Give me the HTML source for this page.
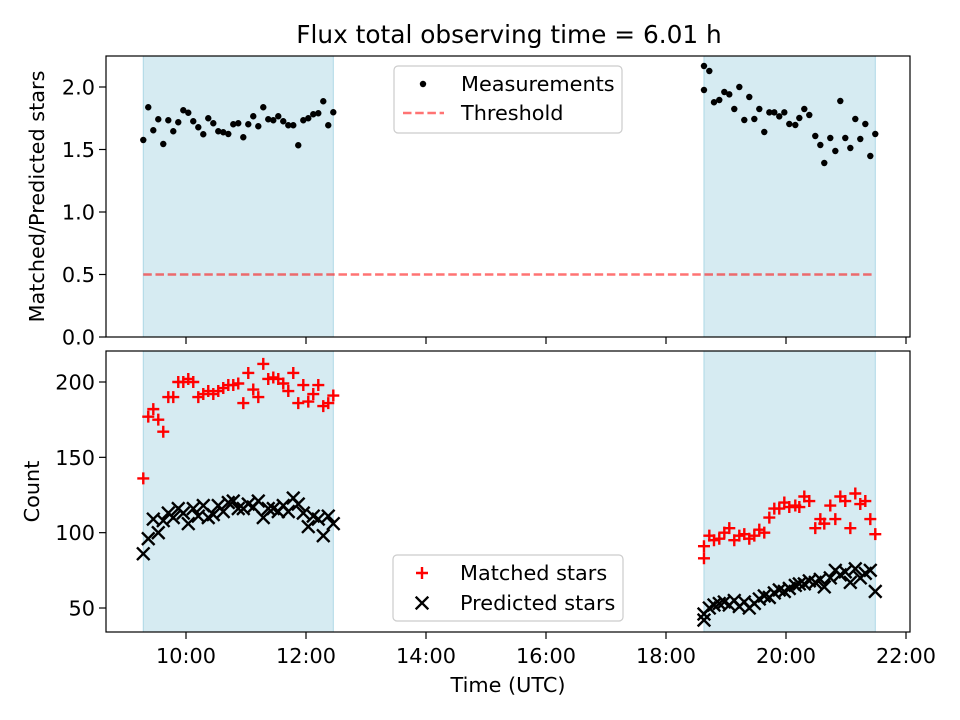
<!DOCTYPE html>
<html><head><meta charset="utf-8"><style>
html,body{margin:0;padding:0;background:#fff;}
svg{display:block;font-family:"DejaVu Sans","Liberation Sans",sans-serif;}
</style></head><body>
<svg id="fig" width="960" height="720" viewBox="0 0 960 720">
<rect width="960" height="720" fill="#fff"/>
<text x="509" y="43" font-size="24.8" text-anchor="middle">Flux total observing time = 6.01 h</text>
<g id="top"></g>
<g id="bot"></g>
</svg>
<script>
const spans = [[9.288, 12.455], [18.633, 21.488]];
const timesA = [9.288,9.371,9.455,9.538,9.621,9.705,9.788,9.871,9.955,10.038,10.121,10.205,10.288,10.371,10.455,10.538,10.621,10.705,10.788,10.871,10.955,11.038,11.121,11.205,11.288,11.371,11.455,11.538,11.621,11.705,11.788,11.871,11.955,12.038,12.121,12.205,12.288,12.371,12.455];
const timesB = [18.633,18.633,18.722,18.8,18.888,18.972,19.055,19.138,19.222,19.305,19.388,19.472,19.555,19.638,19.722,19.805,19.888,19.972,20.055,20.155,20.222,20.305,20.388,20.488,20.572,20.638,20.738,20.822,20.905,20.988,21.072,21.155,21.238,21.322,21.405,21.488];
const ratioA = [1.576,1.838,1.654,1.742,1.544,1.734,1.646,1.718,1.814,1.794,1.726,1.678,1.622,1.75,1.71,1.646,1.638,1.624,1.702,1.71,1.598,1.702,1.766,1.686,1.838,1.742,1.734,1.766,1.726,1.694,1.694,1.534,1.734,1.75,1.782,1.79,1.886,1.694,1.798];
const ratioB = [2.168,1.976,2.128,1.878,1.896,1.96,1.941,1.824,2.0,1.736,1.92,1.744,1.824,1.64,1.797,1.797,1.765,1.797,1.704,1.696,1.752,1.824,1.776,1.608,1.536,1.392,1.592,1.488,1.888,1.592,1.512,1.744,1.584,1.704,1.448,1.624];
const matchedA = [136,177,182,175,167,190,190,200,200,202,200,190,192,194,192,194,196,198,198,199,186,206,195,190,212,202,203,202,199,194,206,186,198,187,192,198,184,186,191];
const matchedB = [83,91,98,95,96,100,103,95,98,99,96,98,102,100,110,116,116,120,117,118,117,124,121,103,109,106,118,109,124,121,103,126,119,121,109,99];
const predictedA = [86,96,109,100,108,113,110,116,113,106,116,111,118,110,112,118,114,120,121,116,116,119,117,121,110,116,116,114,118,114,123,119,113,104,111,109,98,111,106];
const predictedB = [42,46,50,52,53,54,52,55,51,54,50,53,56,58,57,60,62,61,63,65,66,66,68,67,69,64,70,75,72,74,67,76,70,73,75,61];
const threshold = 0.5;
const xTicks = [10,12,14,16,18,20,22];
const xTickLabels = ["10:00","12:00","14:00","16:00","18:00","20:00","22:00"];
const ratioTicks = [0,0.5,1.0,1.5,2.0];
const ratioTickLabels = ["0.0","0.5","1.0","1.5","2.0"];
const countTicks = [50,100,150,200];
const countTickLabels = ["50","100","150","200"];

const NS = "http://www.w3.org/2000/svg";
const L = 106, R = 910;
const FS = 20.8;
const xS = t => 186 + (t - 10) * 60;
const yTop = v => 337 - v * 125;
const yBot = c => 382 + (200 - c) * 1.5067;
function mk(parent, tag, attrs) {
  const e = document.createElementNS(NS, tag);
  for (const k in attrs) e.setAttribute(k, attrs[k]);
  parent.appendChild(e);
  return e;
}
function panel(g, top, bottom, yFn, yTicks, yLabels, ylabel, ylabX, showX) {
  spans.forEach(s => {
    const r = mk(g, "rect", {x: xS(s[0]), y: top, width: xS(s[1]) - xS(s[0]), height: bottom - top, fill: "#add8e6", "fill-opacity": 0.5, stroke: "#add8e6", "stroke-width": 1});
    
    
  });
  xTicks.forEach((t, i) => {
    mk(g, "line", {x1: xS(t), x2: xS(t), y1: bottom, y2: bottom + 7, stroke: "#000", "stroke-width": 1.2});
    if (showX) {
      const tx = mk(g, "text", {x: xS(t), y: bottom + 31, "font-size": FS, "text-anchor": "middle"});
      tx.textContent = xTickLabels[i];
      
      
    }
  });
  yTicks.forEach((v, i) => {
    const y = yFn(v);
    mk(g, "line", {x1: L - 7, x2: L, y1: y, y2: y, stroke: "#000", "stroke-width": 1.2});
    const tx = mk(g, "text", {x: L - 11, y: y + 7.5, "font-size": FS, "text-anchor": "end"});
    tx.textContent = yLabels[i];
    
    
  });
  const yl = mk(g, "text", {x: ylabX, y: (top + bottom) / 2, "font-size": FS, "text-anchor": "middle", transform: `rotate(-90 ${ylabX} ${(top + bottom) / 2})`});
  yl.textContent = ylabel;
  
  
}
function frame(g, top, bottom) {
  const f = mk(g, "rect", {x: L, y: top, width: R - L, height: bottom - top, fill: "none", stroke: "#000", "stroke-width": 1.2});
  
  
}
function dot(g, x, y) {
  const c = mk(g, "circle", {cx: x, cy: y, r: 3.2, fill: "#000"});
  
  
}
function plus(g, x, y, nm) {
  const p = mk(g, "path", {d: `M${x-6},${y}H${x+6}M${x},${y-6}V${y+6}`, stroke: "#f00", "stroke-width": 2.4, fill: "none"});
  
  
}
function cross(g, x, y, nm) {
  const p = mk(g, "path", {d: `M${x-6.3},${y-6.3}L${x+6.3},${y+6.3}M${x-6.3},${y+6.3}L${x+6.3},${y-6.3}`, stroke: "#000", "stroke-width": 2.4, fill: "none"});
  
  
}
function legendBox(g, x, y, w, h) {
  const b = mk(g, "rect", {x: x, y: y, width: w, height: h, rx: 4, fill: "#fff", "fill-opacity": 0.8, stroke: "#ccc", "stroke-width": 1.2});
  
  
}
function ltext(g, x, y, s) {
  const t = mk(g, "text", {x: x, y: y, "font-size": FS});
  t.textContent = s;
  
  
}

// top panel
const gT = document.getElementById("top");
panel(gT, 56, 337, yTop, ratioTicks, ratioTickLabels, "Matched/Predicted stars", 44, false);
const th = mk(gT, "line", {x1: xS(spans[0][0]), x2: xS(spans[1][1]), y1: yTop(threshold), y2: yTop(threshold), stroke: "#ff0000", "stroke-opacity": 0.55, "stroke-width": 2.4, "stroke-dasharray": "8.5,3.7"});


timesA.forEach((t, i) => dot(gT, xS(t), yTop(ratioA[i])));
timesB.forEach((t, i) => dot(gT, xS(t), yTop(ratioB[i])));
frame(gT, 56, 337);
legendBox(gT, 394, 66, 228, 67);
dot(gT, 423, 84);
mk(gT, "line", {x1: 403, x2: 444, y1: 113, y2: 113, stroke: "#ff0000", "stroke-opacity": 0.55, "stroke-width": 2.4, "stroke-dasharray": "8.5,3.7"});
ltext(gT, 461, 91, "Measurements");
ltext(gT, 461, 120, "Threshold");

// bottom panel
const gB = document.getElementById("bot");
panel(gB, 351, 632, yBot, countTicks, countTickLabels, "Count", 39, true);
timesA.forEach((t, i) => plus(gB, xS(t), yBot(matchedA[i]), 'matched-point'));
timesB.forEach((t, i) => plus(gB, xS(t), yBot(matchedB[i]), 'matched-point'));
timesA.forEach((t, i) => cross(gB, xS(t), yBot(predictedA[i]), 'predicted-point'));
timesB.forEach((t, i) => cross(gB, xS(t), yBot(predictedB[i]), 'predicted-point'));
frame(gB, 351, 632);
legendBox(gB, 393, 555, 230, 66);
plus(gB, 422, 573, 'legend-marker');
cross(gB, 422, 603, 'legend-marker');
ltext(gB, 460, 580, "Matched stars");
ltext(gB, 460, 610, "Predicted stars");
const xl = mk(gB, "text", {x: 508, y: 692, "font-size": FS, "text-anchor": "middle"});
xl.textContent = "Time (UTC)";


</script>
</body></html>
